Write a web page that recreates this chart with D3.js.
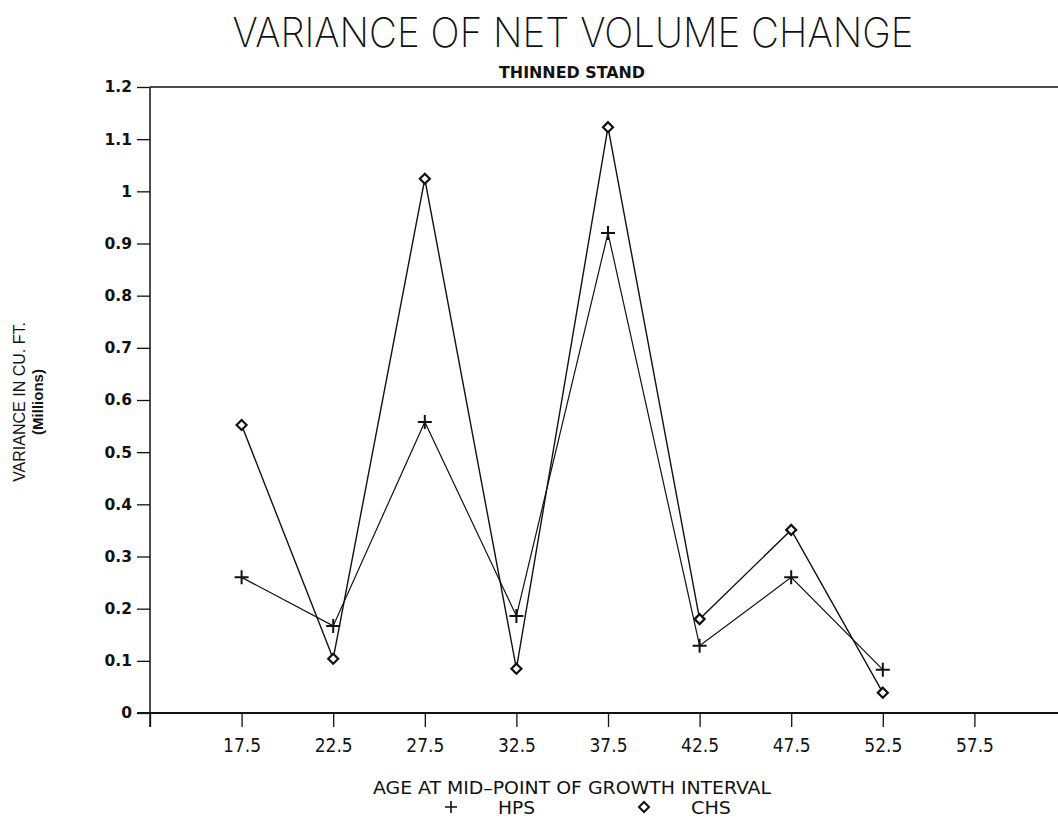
<!DOCTYPE html>
<html>
<head>
<meta charset="utf-8">
<script src="https://cdn.jsdelivr.net/npm/d3@7/dist/d3.min.js"></script>
<style>
  html, body { margin: 0; padding: 0; background: #fff; }
  svg { display: block; }
</style>
</head>
<body>
<script>
// ---- Data ----
const ages = [17.5, 22.5, 27.5, 32.5, 37.5, 42.5, 47.5, 52.5];
const hpsValues = [0.260, 0.167, 0.558, 0.186, 0.920, 0.129, 0.260, 0.083];
const chsValues = [0.552, 0.104, 1.024, 0.085, 1.123, 0.180, 0.351, 0.039];
const xTicks = [12.5, 17.5, 22.5, 27.5, 32.5, 37.5, 42.5, 47.5, 52.5, 57.5, 62.5];
const xTickLabels = ["", "17.5", "22.5", "27.5", "32.5", "37.5", "42.5", "47.5", "52.5", "57.5", ""];
const yTicks = [0, 0.1, 0.2, 0.3, 0.4, 0.5, 0.6, 0.7, 0.8, 0.9, 1.0, 1.1, 1.2];
const yTickLabels = ["0", "0.1", "0.2", "0.3", "0.4", "0.5", "0.6", "0.7", "0.8", "0.9", "1", "1.1", "1.2"];
const titleText = "VARIANCE OF NET VOLUME CHANGE";
const subtitleText = "THINNED STAND";
const xTitle = "AGE AT MID\u2013POINT OF GROWTH INTERVAL";
const yTitle1 = "VARIANCE IN CU. FT.";
const yTitle2 = "(Millions)";
const seriesNames = ["HPS", "CHS"];

// ---- Layout ----
const W = 1058, H = 819;
const svg = d3.select("body").append("svg").attr("width", W).attr("height", H);

const x = d3.scaleLinear().domain([12.5, 62.5]).range([150, 1066]);
const y = d3.scaleLinear().domain([0, 1.2]).range([713, 87]);

const thin = "Inter, Lato, 'Open Sans', sans-serif";
const narrow = "'DejaVu Sans Condensed', 'DejaVu Sans', sans-serif";
const sans = "'Liberation Sans', Arial, sans-serif";
const wide = "'DejaVu Sans', sans-serif";

// Title
svg.append("text")
  .attr("x", 573).attr("y", 47)
  .attr("text-anchor", "middle")
  .attr("font-family", thin)
  .attr("font-size", 41)
  .attr("font-weight", 200)
  .attr("fill", "#111")
  .attr("textLength", 681)
  .attr("lengthAdjust", "spacingAndGlyphs")
  .text(titleText);

svg.append("text")
  .attr("x", 572).attr("y", 78)
  .attr("text-anchor", "middle")
  .attr("font-family", narrow)
  .attr("font-size", 16.5)
  .attr("font-weight", "bold")
  .attr("fill", "#111")
  .attr("textLength", 146)
  .attr("lengthAdjust", "spacingAndGlyphs")
  .text(subtitleText);

// Frame top line
svg.append("line")
  .attr("x1", x(12.5)).attr("x2", W + 10)
  .attr("y1", y(1.2)).attr("y2", y(1.2))
  .attr("stroke", "#111").attr("stroke-width", 1.5);

// Axes
const yAxis = d3.axisLeft(y).tickValues(yTicks)
  .tickFormat((d, i) => yTickLabels[i]).tickSize(13).tickPadding(5);
const gy = svg.append("g").attr("transform", `translate(${x(12.5)},0)`).call(yAxis);
gy.attr("font-size", null).attr("font-family", null);
gy.select(".domain").attr("stroke", "#111").attr("stroke-width", 1.5)
  .attr("d", `M0,${y(1.2)}V${y(0) + 14}`);
gy.selectAll(".tick line").attr("stroke", "#111").attr("stroke-width", 1.3);
gy.selectAll(".tick text")
  .attr("font-family", wide).attr("font-size", 15.5).attr("font-weight", "bold")
  .attr("fill", "#111");

const xAxis = d3.axisBottom(x).tickValues(xTicks)
  .tickFormat((d, i) => xTickLabels[i]).tickSize(14).tickPadding(12);
const gx = svg.append("g").attr("transform", `translate(0,${y(0)})`).call(xAxis);
gx.attr("font-size", null).attr("font-family", null);
gx.select(".domain").attr("stroke", "#111").attr("stroke-width", 1.8)
  .attr("d", `M${x(12.5) - 13},0H${W + 10}`);
gx.selectAll(".tick line").attr("stroke", "#111").attr("stroke-width", 1.3);
gx.selectAll(".tick text")
  .attr("font-family", narrow).attr("font-size", 19)
  .attr("fill", "#111");

// Axis titles
const yMid = (y(0) + y(1.2)) / 2 + 2;
svg.append("text")
  .attr("transform", `translate(25,${yMid}) rotate(-90)`)
  .attr("text-anchor", "middle")
  .attr("font-family", sans).attr("font-size", 16)
  .attr("fill", "#111")
  .text(yTitle1);
svg.append("text")
  .attr("transform", `translate(43,${yMid}) rotate(-90)`)
  .attr("text-anchor", "middle")
  .attr("font-family", sans).attr("font-size", 15).attr("font-weight", "bold")
  .attr("fill", "#111")
  .text(yTitle2);

svg.append("text")
  .attr("x", 572).attr("y", 794)
  .attr("text-anchor", "middle")
  .attr("font-family", narrow).attr("font-size", 18)
  .attr("fill", "#111")
  .attr("textLength", 398)
  .attr("lengthAdjust", "spacingAndGlyphs")
  .text(xTitle);

// Lines
const line = d3.line().x((d, i) => x(ages[i])).y(d => y(d));
svg.append("path").datum(chsValues)
  .attr("d", line).attr("fill", "none")
  .attr("stroke", "#111").attr("stroke-width", 1.4);
svg.append("path").datum(hpsValues)
  .attr("d", line).attr("fill", "none")
  .attr("stroke", "#111").attr("stroke-width", 1.2);

// Markers
const plusPath = (s) => `M${-s},0H${s}M0,${-s}V${s}`;
const diamondPath = (s) => `M0,${-s}L${s},0L0,${s}L${-s},0Z`;

svg.append("g").selectAll("path").data(hpsValues).join("path")
  .attr("transform", (d, i) => `translate(${x(ages[i])},${y(d)})`)
  .attr("d", plusPath(7))
  .attr("fill", "none").attr("stroke", "#111").attr("stroke-width", 2);

svg.append("g").selectAll("path").data(chsValues).join("path")
  .attr("transform", (d, i) => `translate(${x(ages[i])},${y(d)})`)
  .attr("d", diamondPath(5))
  .attr("fill", "#fff").attr("stroke", "#111").attr("stroke-width", 2.2);

// Legend
const legY = 814;
svg.append("path")
  .attr("transform", `translate(451,${legY - 7})`)
  .attr("d", plusPath(6))
  .attr("fill", "none").attr("stroke", "#111").attr("stroke-width", 1.6);
svg.append("text")
  .attr("x", 498).attr("y", legY)
  .attr("font-family", narrow).attr("font-size", 18).attr("fill", "#111")
  .attr("textLength", 37).attr("lengthAdjust", "spacingAndGlyphs")
  .text(seriesNames[0]);
svg.append("path")
  .attr("transform", `translate(644,${legY - 7})`)
  .attr("d", diamondPath(5))
  .attr("fill", "#fff").attr("stroke", "#111").attr("stroke-width", 2);
svg.append("text")
  .attr("x", 691).attr("y", legY)
  .attr("font-family", narrow).attr("font-size", 18).attr("fill", "#111")
  .attr("textLength", 40).attr("lengthAdjust", "spacingAndGlyphs")
  .text(seriesNames[1]);
</script>
</body>
</html>
